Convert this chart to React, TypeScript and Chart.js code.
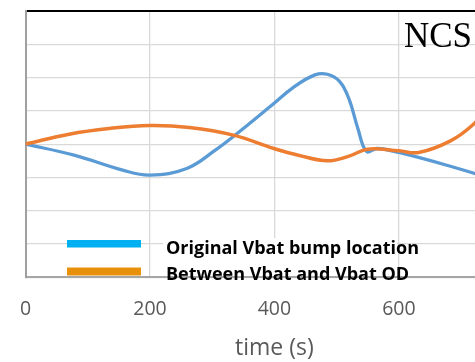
import React, { useEffect, useRef } from "react";
import { Chart, registerables } from "chart.js";

Chart.register(...registerables);

const seriesNames = ["Original Vbat bump location", "Between Vbat and Vbat OD"];
const xTitle = "time (s)";
const cornerLabel = "NCS";

const blueX = [0, 78, 156, 200, 259, 305, 336, 399, 430, 465, 485, 505, 520, 534, 548, 565, 600, 680, 760];
const blueY = [4.0, 3.67, 3.22, 3.07, 3.27, 3.82, 4.26, 5.22, 5.7, 6.08, 6.1, 5.88, 5.35, 4.48, 3.78, 3.87, 3.75, 3.35, 2.9];

const orangeX = [0, 70, 134, 200, 263, 334, 399, 440, 485, 520, 550, 600, 632, 683, 720, 760];
const orangeY = [4.0, 4.3, 4.47, 4.56, 4.5, 4.27, 3.87, 3.66, 3.5, 3.64, 3.85, 3.8, 3.75, 4.1, 4.6, 5.4];

const lineColors = ["#5B9BD5", "#ED7D31"];
const legendColors = ["#00B0F0", "#E8900C"];

const xMin = 0;
const xMax = 800;
const xStep = 200;
const yMin = 0;
const yMax = 8;

const overlayPlugin = {
  id: "overlay",
  afterDraw(chart: any) {
    const ctx = chart.ctx;
    ctx.save();
    ctx.fillStyle = "#ffffff";
    ctx.fillRect(163, 238, 234, 38);
    ctx.fillStyle = legendColors[0];
    ctx.fillRect(67, 240, 74, 7.5);
    ctx.fillStyle = legendColors[1];
    ctx.fillRect(67, 267.5, 74, 8);
    ctx.fillStyle = "#000000";
    ctx.font = "bold 18px 'Open Sans'";
    ctx.textBaseline = "alphabetic";
    ctx.textAlign = "left";
    ctx.fillText(seriesNames[0], 166, 254);
    ctx.fillText(seriesNames[1], 166, 280);
    ctx.font = "35px 'Liberation Serif'";
    ctx.fillText(cornerLabel, 404, 46.5);
    ctx.restore();
  },
};

export default function App() {
  const ref = useRef<HTMLCanvasElement>(null);
  useEffect(() => {
    if (!ref.current) return;
    const chart = new Chart(ref.current, {
      type: "line",
      data: {
        datasets: [
          {
            label: seriesNames[0],
            data: blueX.map((x, i) => ({ x, y: blueY[i] })),
            borderColor: lineColors[0],
            borderWidth: 3.3,
            pointRadius: 0,
            tension: 0.4,
            fill: false,
            order: 1,
          },
          {
            label: seriesNames[1],
            data: orangeX.map((x, i) => ({ x, y: orangeY[i] })),
            borderColor: lineColors[1],
            borderWidth: 3.5,
            pointRadius: 0,
            tension: 0.4,
            fill: false,
            order: 0,
          },
        ],
      },
      options: {
        animation: false,
        responsive: false,
        events: [],
        layout: { padding: { left: 14, top: 11, right: 32, bottom: 0 } },
        plugins: { legend: { display: false }, tooltip: { enabled: false } },
        scales: {
          x: {
            type: "linear",
            min: xMin,
            max: xMax,
            afterFit: (s: any) => {
              s.height = 84.7;
            },
            ticks: {
              stepSize: xStep,
              color: "#595959",
              font: { family: "'Open Sans'", size: 19.5 },
              padding: 20,
              maxRotation: 0,
            },
            grid: {
              color: "#D9D9D9",
              lineWidth: 1.3,
              drawTicks: false,
            },
            border: { display: true, color: "#A6A6A6", width: 2 },
            title: {
              display: true,
              text: xTitle,
              color: "#595959",
              font: { family: "'Open Sans'", size: 23 },
              padding: { top: 0, bottom: 0 },
            },
          },
          y: {
            min: yMin,
            max: yMax,
            afterFit: (s: any) => {
              s.width = 0;
            },
            ticks: { stepSize: 1, display: false },
            grid: {
              color: (c: any) => (c.tick && c.tick.value === yMax ? "#000000" : "#D9D9D9"),
              lineWidth: (c: any) => (c.tick && c.tick.value === yMax ? 2 : 1.3),
              drawTicks: false,
            },
            border: { display: true, color: "#A0A0A0", width: 2 },
          },
        },
      },
      plugins: [overlayPlugin],
    } as any);
    return () => chart.destroy();
  }, []);
  return (
    <div style={{ position: "fixed", left: 0, top: 0, width: 475, height: 362, overflow: "hidden", background: "#fff" }}>
      <div style={{ width: 560, height: 362 }}>
        <canvas ref={ref} width={560} height={362} style={{ display: "block", width: 560, height: 362 }} />
      </div>
    </div>
  );
}
